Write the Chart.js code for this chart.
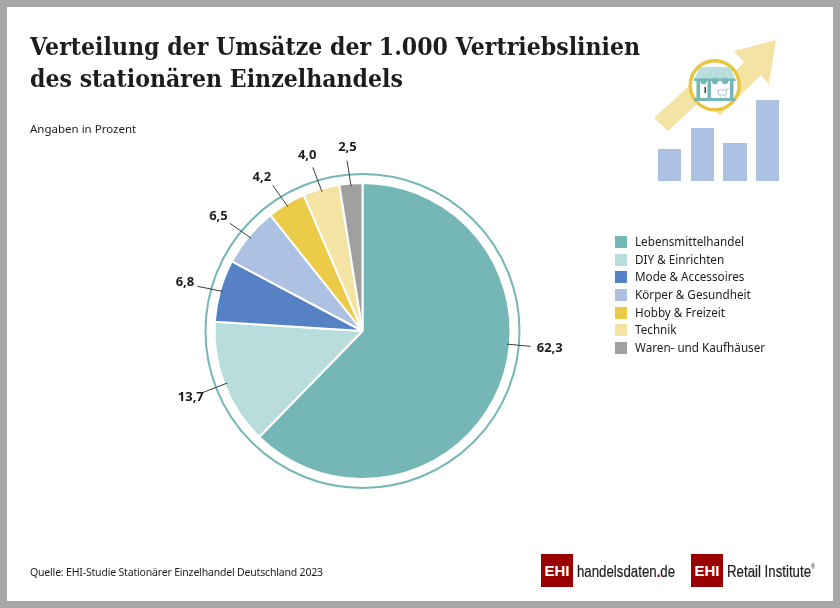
<!DOCTYPE html>
<html lang="de">
<head>
<meta charset="utf-8">
<title>Verteilung der Umsätze</title>
<script src="https://cdn.jsdelivr.net/npm/chart.js@4"></script>
<style>
  html, body { margin: 0; padding: 0; background: #fff; }
  #page { position: relative; width: 840px; height: 608px; overflow: hidden; font-family: "Noto Sans", sans-serif; color: #1d1d1b; }
  #frame { position: absolute; left: 0; top: 0; width: 826px; height: 594px; border: 7px solid #a6a6a6; pointer-events: none; }
  #chart { position: absolute; left: 0; top: 0; }
  #icon { position: absolute; left: 0; top: 0; }
  h1 { position: absolute; left: 30px; top: 31px; margin: 0; font: bold 25px/32px "DejaVu Serif", serif; color: #1d1d1b; white-space: nowrap; transform: scaleX(0.884); transform-origin: left top; }
  .note { position: absolute; font-size: 11.5px; white-space: nowrap; }
  #legend { position: absolute; left: 615px; top: 233px; }
  #legend div { position: relative; height: 17.7px; line-height: 17.7px; font-size: 11.7px; padding-left: 20px; white-space: nowrap; }
  #legend i { position: absolute; left: 0; top: 3px; width: 12px; height: 12px; }
  .logo { position: absolute; top: 554px; width: 32px; height: 33px; background: #9b0000; color: #fff; font: bold 15px/33px "Liberation Sans", sans-serif; text-align: center; }
  .brand { position: absolute; top: 560px; font: 17px/24px "Liberation Sans", sans-serif; white-space: nowrap; transform-origin: left top; -webkit-text-stroke: 0.2px #1d1d1b; }
  .brand b { color: #9b0000; -webkit-text-stroke: 0.2px #9b0000; }
  sup { font-size: 7px; line-height: 0; position: relative; top: -1px; vertical-align: super; -webkit-text-stroke: 0; }
</style>
</head>
<body>
<div id="page">
  <canvas id="chart" width="840" height="608"></canvas>
  <h1>Verteilung der Umsätze der 1.000 Vertriebslinien<br>des stationären Einzelhandels</h1>
  <div class="note" style="left:30px;top:121px">Angaben in Prozent</div>
  <svg id="icon" width="840" height="608">
    <polygon fill="#f5e3a3" points="654,118 668,131 700,101 720,115 761,75 769,84 776,40 734,51 744,62 718,90 690,85"/>
    <rect x="658" y="149" width="23" height="32" fill="#adc2e3"/>
    <rect x="691" y="128" width="23" height="53" fill="#adc2e3"/>
    <rect x="723" y="143" width="24" height="38" fill="#adc2e3"/>
    <rect x="756" y="100" width="23" height="81" fill="#adc2e3"/>
    <circle cx="714.7" cy="85.3" r="24.5" fill="#fff" stroke="#e8c53f" stroke-width="3.5"/>
    <polygon fill="#b8dddc" points="700,67 730,67 735.5,80 694,80"/>
    <rect x="696.5" y="80" width="3.5" height="19" fill="#75b7b6"/>
    <rect x="707.5" y="80" width="3.5" height="19" fill="#75b7b6"/>
    <rect x="730" y="80" width="3.5" height="19" fill="#75b7b6"/>
    <rect x="694" y="78.5" width="41.5" height="2.5" fill="#75b7b6"/>
    <circle cx="703.5" cy="81" r="3.2" fill="#75b7b6"/>
    <circle cx="715" cy="81" r="3.2" fill="#75b7b6"/>
    <circle cx="725" cy="81" r="3.2" fill="#75b7b6"/>
    <rect x="694" y="98" width="41.5" height="3" rx="1.5" fill="#75b7b6"/>
    <rect x="704.5" y="87" width="1.5" height="6" fill="#3c3c3b"/>
    <path d="M729 88 l-2 1 l-1 6 h-7 l-1 -5 h9 M720 97 h1 M725 97 h1" fill="none" stroke="#adc2e3" stroke-width="1"/>
  </svg>
  <div id="legend"></div>
  <div class="note" style="left:30px;top:565px;font-size:10.5px;letter-spacing:-0.18px">Quelle: EHI-Studie Stationärer Einzelhandel Deutschland 2023</div>
  <div class="logo" style="left:541px">EHI</div>
  <div class="brand" style="left:577px;transform:scaleX(0.78)">handelsdaten<b>.</b>de</div>
  <div class="logo" style="left:691px">EHI</div>
  <div class="brand" style="left:727px;transform:scaleX(0.78)">Retail Institute<sup>®</sup></div>
  <div id="frame"></div>
</div>
<script>
  // ==========================
  // Data
  // ==========================
  const categories = ["Lebensmittelhandel", "DIY & Einrichten", "Mode & Accessoires", "Körper & Gesundheit", "Hobby & Freizeit", "Technik", "Waren- und Kaufhäuser"];
  const shares = [62.3, 13.7, 6.8, 6.5, 4.2, 4.0, 2.5];
  const colors = ["#75b7b6", "#b8dddc", "#5682c5", "#adc2e3", "#eccb48", "#f5e3a3", "#a0a0a0"];

  // Legend
  document.getElementById("legend").innerHTML = categories.map((name, i) =>
    `<div><i style="background:${colors[i]}"></i>${name.replace("&", "&amp;")}</div>`).join("");

  // Ring around the pie and the value labels with their leader lines
  const ringAndLabels = {
    id: "ringAndLabels",
    afterDatasetsDraw(chart) {
      const { ctx } = chart;
      const arcs = chart.getDatasetMeta(0).data;
      const cx = arcs[0].x, cy = arcs[0].y, r = arcs[0].outerRadius;
      const deg = Math.PI / 180;
      // the labels of the small slices lean a little towards the top left
      const textLean = [0, 0, 0.6, 1.3, 2.2, 1.3, 0.2];

      ctx.save();
      ctx.strokeStyle = "#75b7b6";
      ctx.lineWidth = 2;
      ctx.beginPath();
      ctx.arc(cx, cy, r + 9, 0, Math.PI * 2);
      ctx.stroke();

      ctx.font = "bold 13px 'Noto Sans', sans-serif";
      ctx.textAlign = "center";
      ctx.textBaseline = "middle";
      arcs.forEach((arc, i) => {
        // the big slice has its label near 3 o'clock, not at mid angle
        const mid = i === 0 ? 5.2 * deg : (arc.startAngle + arc.endAngle) / 2;
        const outerAngle = mid - (i >= 2 ? 0.7 * deg : 0);
        const textAngle = mid - textLean[i] * deg;
        const outer = i === 0 ? r + 21 : r + 23;
        const textR = i === 0 ? r + 40 : r + 36;
        const text = shares[i].toFixed(1).replace(".", ",");
        ctx.strokeStyle = "#3c3c3b";
        ctx.lineWidth = 1;
        ctx.beginPath();
        ctx.moveTo(cx + Math.cos(mid) * (r - 3), cy + Math.sin(mid) * (r - 3));
        ctx.lineTo(cx + Math.cos(outerAngle) * outer, cy + Math.sin(outerAngle) * outer);
        ctx.stroke();
        ctx.fillStyle = "#1d1d1b";
        ctx.fillText(text, cx + Math.cos(textAngle) * textR, cy + Math.sin(textAngle) * textR);
      });
      ctx.restore();
    }
  };

  new Chart(document.getElementById("chart"), {
    type: "pie",
    data: {
      labels: categories,
      datasets: [{
        data: shares,
        backgroundColor: colors,
        borderColor: "#fff",
        borderWidth: 2
      }]
    },
    options: {
      responsive: false,
      animation: false,
      layout: { padding: { left: 213.5, top: 182, right: 328.5, bottom: 128 } },
      plugins: { legend: { display: false }, tooltip: { enabled: false } }
    },
    plugins: [ringAndLabels]
  });
</script>
</body>
</html>
